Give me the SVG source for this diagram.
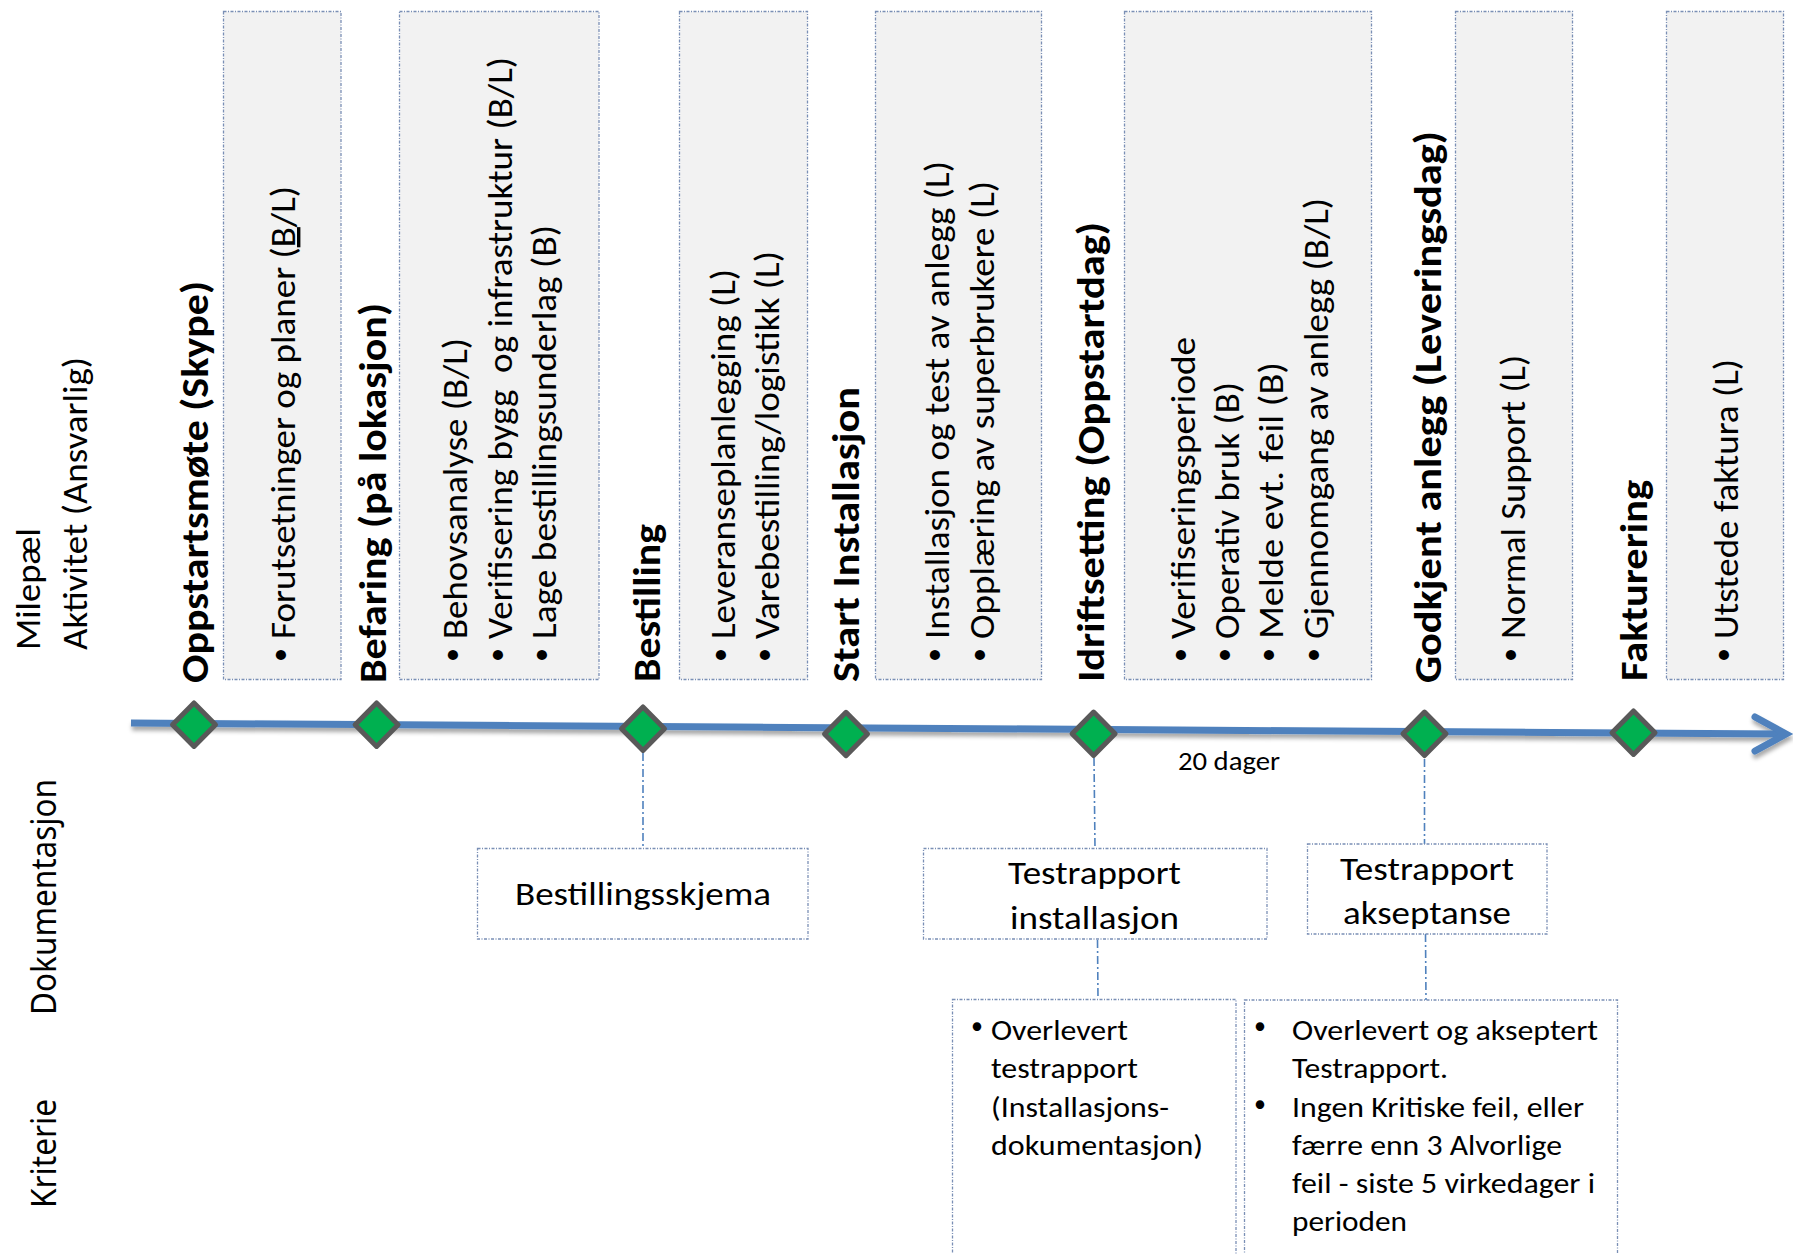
<svg xmlns="http://www.w3.org/2000/svg" width="1793" height="1254" viewBox="0 0 1793 1254">
<style>
  .bold { font-family: Carlito, Lato, "Liberation Sans", sans-serif; font-weight: 700; font-size: 38px; fill: #000; }
  .reg { font-family: Carlito, Lato, "Liberation Sans", sans-serif; font-weight: 400; font-size: 34px; fill: #000; }
  .bul { font-family: Carlito, Lato, "Liberation Sans", sans-serif; font-weight: 400; font-size: 28px; fill: #000; }
  .crit { font-family: Carlito, Lato, "Liberation Sans", sans-serif; font-weight: 400; font-size: 29px; fill: #000; }
  .cbul { font-family: Carlito, Lato, "Liberation Sans", sans-serif; font-weight: 400; font-size: 24px; fill: #000; }
  .doc { font-family: Carlito, Lato, "Liberation Sans", sans-serif; font-weight: 400; font-size: 33px; fill: #000; }
  .side { font-family: "Noto Sans", "Open Sans", "DejaVu Sans", sans-serif; font-weight: 400; font-size: 35px; fill: #000; }
  .actbox { fill: #F2F2F2; stroke: #7A8FB5; stroke-width: 1.3; stroke-dasharray: 3 1.5 1 1.5; }
  .docbox { fill: #FFFFFF; stroke: #7A8FB5; stroke-width: 1.3; stroke-dasharray: 3 1.5 1 1.5; }
  .conn { fill: none; stroke: #4F81BD; stroke-width: 1.6; stroke-dasharray: 8 3 2 3; }
  .ms { fill: #00B050; stroke: #595959; stroke-width: 5; stroke-linejoin: round; }
</style>
<defs>
  <filter id="shadow" x="-5%" y="-200%" width="110%" height="500%">
    <feDropShadow dx="1" dy="4" stdDeviation="2.2" flood-color="#000" flood-opacity="0.35"/>
  </filter>
</defs>

<rect x="0" y="0" width="1793" height="1254" fill="#FFFFFF"/>

<!-- side labels -->
<g id="side-labels">
  <text class="reg" transform="translate(40,650) rotate(-90)" textLength="122" lengthAdjust="spacingAndGlyphs">Milepæl</text>
  <text class="reg" transform="translate(87,650) rotate(-90)" textLength="293" lengthAdjust="spacingAndGlyphs">Aktivitet (Ansvarlig)</text>
  <text class="side" transform="translate(56,1015) rotate(-90)" textLength="236" lengthAdjust="spacingAndGlyphs">Dokumentasjon</text>
  <text class="side" transform="translate(56,1208) rotate(-90)" textLength="109" lengthAdjust="spacingAndGlyphs">Kriterie</text>
</g>

<!-- activity boxes -->
<g id="act-1">
  <rect class="actbox" x="223.5" y="11.5" width="117.5" height="668"/>
  <text class="bul" transform="translate(289,655) rotate(-90)" text-anchor="middle">•</text>
  <text class="reg" transform="translate(295,639) rotate(-90)" textLength="453" lengthAdjust="spacingAndGlyphs">Forutsetninger og planer (<tspan text-decoration="underline">B</tspan>/L)</text>
</g>
<g id="act-2">
  <rect class="actbox" x="399.5" y="11.5" width="199.5" height="668"/>
  <text class="bul" transform="translate(460.5,655) rotate(-90)" text-anchor="middle">•</text>
  <text class="reg" transform="translate(466.5,639) rotate(-90)" textLength="301" lengthAdjust="spacingAndGlyphs">Behovsanalyse (B/L)</text>
  <text class="bul" transform="translate(505.5,655) rotate(-90)" text-anchor="middle">•</text>
  <text class="reg" transform="translate(511.5,639) rotate(-90)" textLength="582" lengthAdjust="spacingAndGlyphs" xml:space="preserve">Verifisering bygg  og infrastruktur (B/L)</text>
  <text class="bul" transform="translate(550,655) rotate(-90)" text-anchor="middle">•</text>
  <text class="reg" transform="translate(556,639) rotate(-90)" textLength="414" lengthAdjust="spacingAndGlyphs">Lage bestillingsunderlag (B)</text>
</g>
<g id="act-3">
  <rect class="actbox" x="679.5" y="11.5" width="128" height="668"/>
  <text class="bul" transform="translate(728.5,655) rotate(-90)" text-anchor="middle">•</text>
  <text class="reg" transform="translate(734.5,639) rotate(-90)" textLength="370" lengthAdjust="spacingAndGlyphs">Leveranseplanlegging (L)</text>
  <text class="bul" transform="translate(773,655) rotate(-90)" text-anchor="middle">•</text>
  <text class="reg" transform="translate(779,639) rotate(-90)" textLength="388" lengthAdjust="spacingAndGlyphs">Varebestilling/logistikk (L)</text>
</g>
<g id="act-4">
  <rect class="actbox" x="875.5" y="11.5" width="166" height="668"/>
  <text class="bul" transform="translate(942.5,655) rotate(-90)" text-anchor="middle">•</text>
  <text class="reg" transform="translate(948.5,639) rotate(-90)" textLength="478" lengthAdjust="spacingAndGlyphs">Installasjon og test av anlegg (L)</text>
  <text class="bul" transform="translate(988,655) rotate(-90)" text-anchor="middle">•</text>
  <text class="reg" transform="translate(994,639) rotate(-90)" textLength="458" lengthAdjust="spacingAndGlyphs">Opplæring av superbrukere (L)</text>
</g>
<g id="act-5">
  <rect class="actbox" x="1124.5" y="11.5" width="247" height="668"/>
  <text class="bul" transform="translate(1188.5,655) rotate(-90)" text-anchor="middle">•</text>
  <text class="reg" transform="translate(1194.5,639) rotate(-90)" textLength="302" lengthAdjust="spacingAndGlyphs">Verifiseringsperiode</text>
  <text class="bul" transform="translate(1232.5,655) rotate(-90)" text-anchor="middle">•</text>
  <text class="reg" transform="translate(1238.5,639) rotate(-90)" textLength="257" lengthAdjust="spacingAndGlyphs">Operativ bruk (B)</text>
  <text class="bul" transform="translate(1277,655) rotate(-90)" text-anchor="middle">•</text>
  <text class="reg" transform="translate(1283,639) rotate(-90)" textLength="277" lengthAdjust="spacingAndGlyphs">Melde evt. feil (B)</text>
  <text class="bul" transform="translate(1321.5,655) rotate(-90)" text-anchor="middle">•</text>
  <text class="reg" transform="translate(1327.5,639) rotate(-90)" textLength="441" lengthAdjust="spacingAndGlyphs">Gjennomgang av anlegg (B/L)</text>
</g>
<g id="act-6">
  <rect class="actbox" x="1455.5" y="11.5" width="117" height="668"/>
  <text class="bul" transform="translate(1519,655) rotate(-90)" text-anchor="middle">•</text>
  <text class="reg" transform="translate(1525,639) rotate(-90)" textLength="284" lengthAdjust="spacingAndGlyphs">Normal Support (L)</text>
</g>
<g id="act-7">
  <rect class="actbox" x="1666.5" y="11.5" width="117" height="668"/>
  <text class="bul" transform="translate(1732,655) rotate(-90)" text-anchor="middle">•</text>
  <text class="reg" transform="translate(1738,639) rotate(-90)" textLength="280" lengthAdjust="spacingAndGlyphs">Utstede faktura (L)</text>
</g>

<!-- milestone labels -->
<g id="milestone-labels">
  <text class="bold" transform="translate(208,683) rotate(-90)" textLength="402" lengthAdjust="spacingAndGlyphs">Oppstartsmøte (Skype)</text>
  <text class="bold" transform="translate(386,683) rotate(-90)" textLength="380" lengthAdjust="spacingAndGlyphs">Befaring (på lokasjon)</text>
  <text class="bold" transform="translate(660,682) rotate(-90)" textLength="158" lengthAdjust="spacingAndGlyphs">Bestilling</text>
  <text class="bold" transform="translate(859,682) rotate(-90)" textLength="295" lengthAdjust="spacingAndGlyphs">Start Installasjon</text>
  <text class="bold" transform="translate(1104,682) rotate(-90)" textLength="460" lengthAdjust="spacingAndGlyphs">Idriftsetting (Oppstartdag)</text>
  <text class="bold" transform="translate(1441,683) rotate(-90)" textLength="552" lengthAdjust="spacingAndGlyphs">Godkjent anlegg (Leveringsdag)</text>
  <text class="bold" transform="translate(1647,681) rotate(-90)" textLength="201" lengthAdjust="spacingAndGlyphs">Fakturering</text>
</g>

<!-- timeline -->
<g id="timeline" filter="url(#shadow)">
  <line x1="131" y1="723" x2="1783" y2="734" stroke="#4F81BD" stroke-width="7"/>
  <path d="M1755,717 L1786,734 L1755,751" fill="none" stroke="#4F81BD" stroke-width="7" stroke-linecap="round" stroke-linejoin="miter"/>
</g>

<!-- connectors -->
<g id="connectors">
  <line class="conn" x1="643" y1="753" x2="643" y2="848"/>
  <line class="conn" x1="1094" y1="758" x2="1095" y2="848"/>
  <line class="conn" x1="1097.5" y1="940" x2="1098" y2="999"/>
  <line class="conn" x1="1424.5" y1="759" x2="1424.5" y2="844"/>
  <line class="conn" x1="1425.5" y1="934" x2="1426" y2="1000"/>
</g>

<!-- milestones -->
<g id="milestones">
  <polygon id="ms-1" class="ms" points="194,703 215.5,724.7 194,746.4 172.5,724.7"/>
  <polygon id="ms-2" class="ms" points="376.6,703 398.1,724.7 376.6,746.4 355.1,724.7"/>
  <polygon id="ms-3" class="ms" points="643,707 664.5,728.7 643,750.4 621.5,728.7"/>
  <polygon id="ms-4" class="ms" points="846,712.3 867.5,734 846,755.7 824.5,734"/>
  <polygon id="ms-5" class="ms" points="1093.6,712.1 1115.1,733.8 1093.6,755.5 1072.1,733.8"/>
  <polygon id="ms-6" class="ms" points="1424.5,712.1 1446,733.8 1424.5,755.5 1403,733.8"/>
  <polygon id="ms-7" class="ms" points="1633.5,711 1655,732.7 1633.5,754.4 1612,732.7"/>
</g>

<g id="duration">
  <text class="crit" x="1178" y="770" textLength="102" lengthAdjust="spacingAndGlyphs" style="font-size:26px">20 dager</text>
</g>

<!-- documentation boxes -->
<g id="doc-bestilling">
  <rect class="docbox" x="477.5" y="848.5" width="330.5" height="90.5"/>
  <text class="doc" x="515" y="905" textLength="256" lengthAdjust="spacingAndGlyphs">Bestillingsskjema</text>
</g>
<g id="doc-test-inst">
  <rect class="docbox" x="923.5" y="848.5" width="343.5" height="90.5"/>
  <text class="doc" x="1008" y="884" textLength="173" lengthAdjust="spacingAndGlyphs">Testrapport</text>
  <text class="doc" x="1010" y="928.5" textLength="169" lengthAdjust="spacingAndGlyphs">installasjon</text>
</g>
<g id="doc-test-aksept">
  <rect class="docbox" x="1307.5" y="844" width="239.5" height="90"/>
  <text class="doc" x="1340" y="879.5" textLength="174" lengthAdjust="spacingAndGlyphs">Testrapport</text>
  <text class="doc" x="1343" y="923.5" textLength="168" lengthAdjust="spacingAndGlyphs">akseptanse</text>
</g>

<!-- criteria boxes -->
<g id="crit-inst">
  <rect class="docbox" x="952.5" y="999.5" width="283.5" height="270"/>
  <text class="cbul" x="977" y="1034" text-anchor="middle">•</text>
  <text class="crit" x="991" y="1040" textLength="137" lengthAdjust="spacingAndGlyphs">Overlevert</text>
  <text class="crit" x="991" y="1078" textLength="147" lengthAdjust="spacingAndGlyphs">testrapport</text>
  <text class="crit" x="991" y="1116.5" textLength="178" lengthAdjust="spacingAndGlyphs">(Installasjons-</text>
  <text class="crit" x="991" y="1155" textLength="212" lengthAdjust="spacingAndGlyphs">dokumentasjon)</text>
</g>
<g id="crit-aksept">
  <rect class="docbox" x="1244.5" y="1000" width="373" height="270"/>
  <text class="cbul" x="1260" y="1034" text-anchor="middle">•</text>
  <text class="crit" x="1292" y="1040" textLength="306" lengthAdjust="spacingAndGlyphs">Overlevert og akseptert</text>
  <text class="crit" x="1292" y="1078" textLength="156" lengthAdjust="spacingAndGlyphs">Testrapport.</text>
  <text class="cbul" x="1260" y="1112" text-anchor="middle">•</text>
  <text class="crit" x="1292" y="1116.5" textLength="292" lengthAdjust="spacingAndGlyphs">Ingen Kritiske feil, eller</text>
  <text class="crit" x="1292" y="1155" textLength="270" lengthAdjust="spacingAndGlyphs">færre enn 3 Alvorlige</text>
  <text class="crit" x="1292" y="1193" textLength="303" lengthAdjust="spacingAndGlyphs">feil - siste 5 virkedager i</text>
  <text class="crit" x="1292" y="1231" textLength="115" lengthAdjust="spacingAndGlyphs">perioden</text>
</g>
</svg>
